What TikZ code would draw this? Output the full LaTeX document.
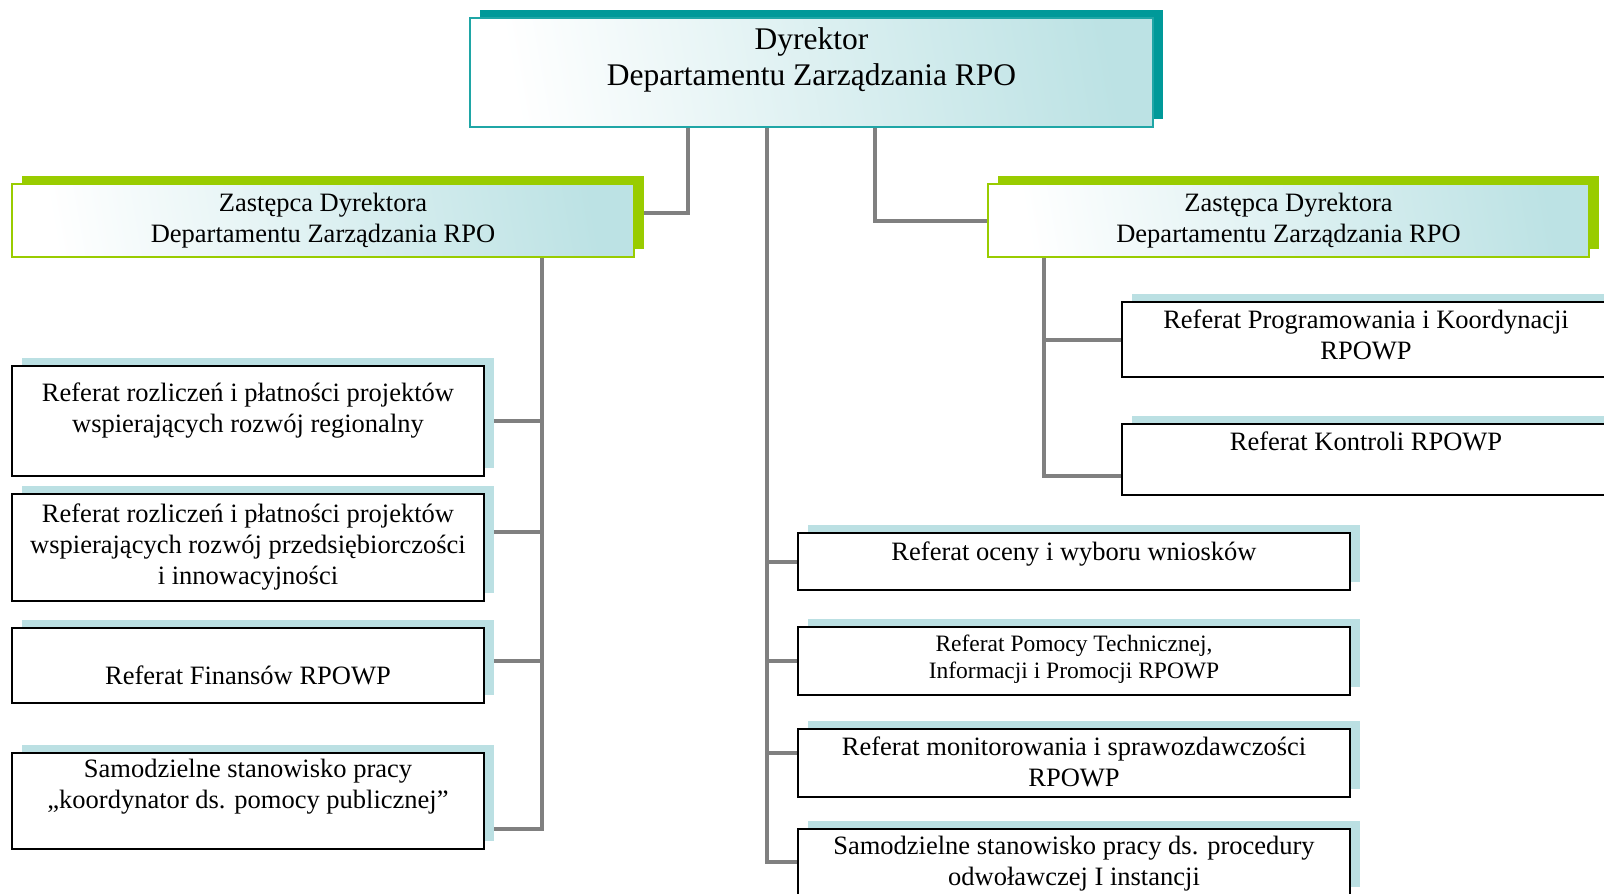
\documentclass[tikz,border=0pt]{standalone}
\usepackage{fontspec}
\setmainfont{Liberation Serif}
\usetikzlibrary{positioning, shadows, backgrounds}

\definecolor{tealdark}{HTML}{009999}
\definecolor{tealline}{HTML}{1FA6A6}
\definecolor{tealgrad}{HTML}{BCE2E4}
\definecolor{limegreen}{HTML}{99CC00}
\definecolor{paleblue}{HTML}{BBE0E3}
\definecolor{conngray}{HTML}{808080}

\begin{document}
\begin{tikzpicture}[x=1pt, y=-1pt,
  txt/.style={align=center, inner sep=0pt, font=\fontsize{26.5}{31}\selectfont},
  bigtxt/.style={txt, font=\fontsize{31.5}{36}\selectfont},
  smalltxt/.style={txt, font=\fontsize{23.5}{27}\selectfont},
  headbox/.style={draw=tealline, line width=1.6pt, outer sep=0pt,
                  left color=white, right color=tealgrad, shading angle=100,
                  general shadow={fill=tealdark, shadow xshift=10pt, shadow yshift=8pt}},
  depbox/.style={headbox, draw=limegreen,
                 general shadow={fill=limegreen, shadow xshift=10pt, shadow yshift=8pt}},
  refbox/.style={draw=black, line width=1.6pt, fill=white, outer sep=0pt,
                 general shadow={fill=paleblue, shadow xshift=10pt, shadow yshift=8pt}},
  conn/.style={draw=conngray, line width=4pt}]

  \useasboundingbox (0,0) rectangle (1604,894);

  % director and deputies
  \node[headbox, minimum width=683pt, minimum height=109pt] (dyr) at (811.5,72.5) {};
  \node[bigtxt] (dyrtxt) at ([yshift=12.5pt]dyr.center) {Dyrektor\\Departamentu Zarządzania RPO};
  \node[depbox, minimum width=622pt, minimum height=73pt] (zastL) at (323,220.5) {};
  \node[txt] (zastLtxt) at ([yshift=-0.5pt]zastL.center) {Zastępca Dyrektora\\Departamentu Zarządzania RPO};
  \node[depbox, minimum width=601pt, minimum height=73pt] (zastR) at (1288.5,220.5) {};
  \node[txt] (zastRtxt) at ([yshift=-0.5pt]zastR.center) {Zastępca Dyrektora\\Departamentu Zarządzania RPO};

  % left column (under the left deputy)
  \node[refbox, minimum width=472pt, minimum height=110pt] (rozReg) at (248,421) {};
  \node[refbox, minimum width=472pt, minimum height=107pt, below=18pt of rozReg] (rozPrz) {};
  \node[refbox, minimum width=472pt, minimum height=75pt, below=27pt of rozPrz] (fin) {};
  \node[refbox, minimum width=472pt, minimum height=96pt, below=50pt of fin] (koord) {};
  \node[txt] (rozRegtxt) at ([yshift=10.5pt]rozReg.center) {Referat rozliczeń i płatności projektów\\wspierających rozwój regionalny};
  \node[txt] (rozPrztxt) at (rozPrz.center) {Referat rozliczeń i płatności projektów\\wspierających rozwój przedsiębiorczości\\i innowacyjności};
  \node[txt] (fintxt) at ([yshift=-9.5pt]fin.center) {Referat Finansów RPOWP};
  \node[txt] (koordtxt) at ([yshift=14.5pt]koord.center) {Samodzielne stanowisko pracy\\„koordynator ds. pomocy publicznej”};

  % right column (under the right deputy)
  \node[refbox, minimum width=488pt, minimum height=75pt] (progr) at (1366,339.5) {};
  \node[refbox, minimum width=488pt, minimum height=71pt, below=47pt of progr] (kontr) {};
  \node[txt] (progrtxt) at ([yshift=4.5pt]progr.center) {Referat Programowania i Koordynacji\\RPOWP};
  \node[txt] (kontrtxt) at ([yshift=18.5pt]kontr.center) {Referat Kontroli RPOWP};

  % centre column (directly under the director)
  \node[refbox, minimum width=552pt, minimum height=57pt] (ocena) at (1074,561.5) {};
  \node[refbox, minimum width=552pt, minimum height=68pt, below=37pt of ocena] (pomoc) {};
  \node[refbox, minimum width=552pt, minimum height=68pt, below=34pt of pomoc] (monit) {};
  \node[refbox, minimum width=552pt, minimum height=66pt, below=32pt of monit] (proced) {};
  \node[txt] (ocenatxt) at ([yshift=7.5pt]ocena.center) {Referat oceny i wyboru wniosków};
  \node[smalltxt] (pomoctxt) at ([yshift=1.5pt]pomoc.center) {Referat Pomocy Technicznej,\\Informacji i Promocji RPOWP};
  \node[txt] (monittxt) at ([yshift=1.5pt]monit.center) {Referat monitorowania i sprawozdawczości\\RPOWP};
  \node[txt] (procedtxt) at ([yshift=-2pt]proced.center) {Samodzielne stanowisko pracy ds. procedury\\odwoławczej I instancji};

  % connectors
  \begin{scope}[on background layer]
    \coordinate (spL) at ([xshift=-123.5pt]dyr.south);
    \coordinate (spC) at ([xshift=-44.5pt]dyr.south);
    \coordinate (spR) at ([xshift=63.5pt]dyr.south);
    \coordinate (spLd) at ([xshift=219pt]zastL.south);
    \coordinate (spRd) at ([xshift=-244.5pt]zastR.south);
    \coordinate (zastLIn) at ([yshift=7.5pt]zastL.east);
    \coordinate (rozPrzIn) at ([yshift=15.5pt]rozPrz.east);
    \coordinate (finIn) at ([yshift=4.5pt]fin.east);
    \coordinate (koordIn) at ([yshift=-28pt]koord.east);
    \coordinate (kontrIn) at ([yshift=-16.5pt]kontr.west);
    \coordinate (monitIn) at ([yshift=10pt]monit.west);

    \draw[conn] (spL) |- (zastLIn);
    \draw[conn] (spR) |- (zastR.west);
    \draw[conn] (spC) |- (proced.west);
    \draw[conn] (spLd) |- (koordIn);
    \draw[conn] (spRd) |- (kontrIn);

    \draw[conn] (spLd |- rozReg.east) -- (rozReg.east);
    \draw[conn] (spLd |- rozPrzIn) -- (rozPrzIn);
    \draw[conn] (spLd |- finIn) -- (finIn);
    \draw[conn] (spRd |- progr.west) -- (progr.west);
    \draw[conn] (spC |- ocena.west) -- (ocena.west);
    \draw[conn] (spC |- pomoc.west) -- (pomoc.west);
    \draw[conn] (spC |- monitIn) -- (monitIn);
  \end{scope}
\end{tikzpicture}
\end{document}
